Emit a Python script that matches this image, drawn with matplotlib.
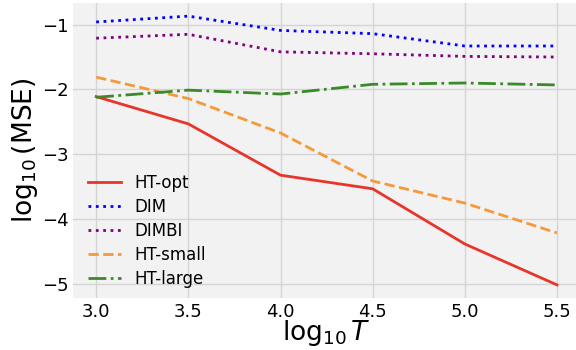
import numpy as np
import matplotlib
matplotlib.use("Agg")
import matplotlib.pyplot as plt

# log10 T on the x axis
log_t = [3.0, 3.5, 4.0, 4.5, 5.0, 5.5]

# log10(MSE) per method
ht_opt = [-2.11, -2.53, -3.32, -3.53, -4.38, -5.01]
dim = [-0.96, -0.87, -1.09, -1.14, -1.33, -1.33]
dimbi = [-1.21, -1.15, -1.42, -1.45, -1.49, -1.50]
ht_small = [-1.81, -2.14, -2.67, -3.41, -3.75, -4.21]
ht_large = [-2.12, -2.01, -2.07, -1.92, -1.90, -1.93]

fig = plt.figure(figsize=(5.76, 3.5), dpi=100)
ax = fig.add_axes([0.127, 0.148, 0.88, 0.843])
ax.set_facecolor('#f2f2f2')

ax.plot(log_t, ht_opt, '-', color='#e8352b', linewidth=2, label='HT-opt')
ax.plot(log_t, dim, ':', color='blue', linewidth=2, label='DIM')
ax.plot(log_t, dimbi, ':', color='purple', linewidth=2, label='DIMBI')
ax.plot(log_t, ht_small, '--', color='#f5993a', linewidth=2, label='HT-small')
ax.plot(log_t, ht_large, '-.', color='#3a8a2a', linewidth=2, label='HT-large')

ax.set_xlim(2.875, 5.625)
ax.set_ylim(-5.215, -0.67)
ax.set_xticks([3.0, 3.5, 4.0, 4.5, 5.0, 5.5])
ax.set_yticks([-1, -2, -3, -4, -5])
ax.tick_params(labelsize=13, length=0, pad=3.5)
ax.grid(True, color='#d4d4d4', linewidth=1)
ax.set_axisbelow(True)
for s in ax.spines.values():
    s.set_visible(False)

ax.set_xlabel(r'$\log_{10}T$', fontsize=19)
ax.xaxis.set_label_coords(0.5, -0.066)
ax.set_ylabel(r'$\log_{10}(\mathrm{MSE})$', fontsize=19, labelpad=1)

ax.legend(loc='lower left', frameon=False, fontsize=12,
          handlelength=2.0, labelspacing=0.35, bbox_to_anchor=(0.0, -0.015))

fig.savefig('out.png', dpi=100, facecolor='white')
